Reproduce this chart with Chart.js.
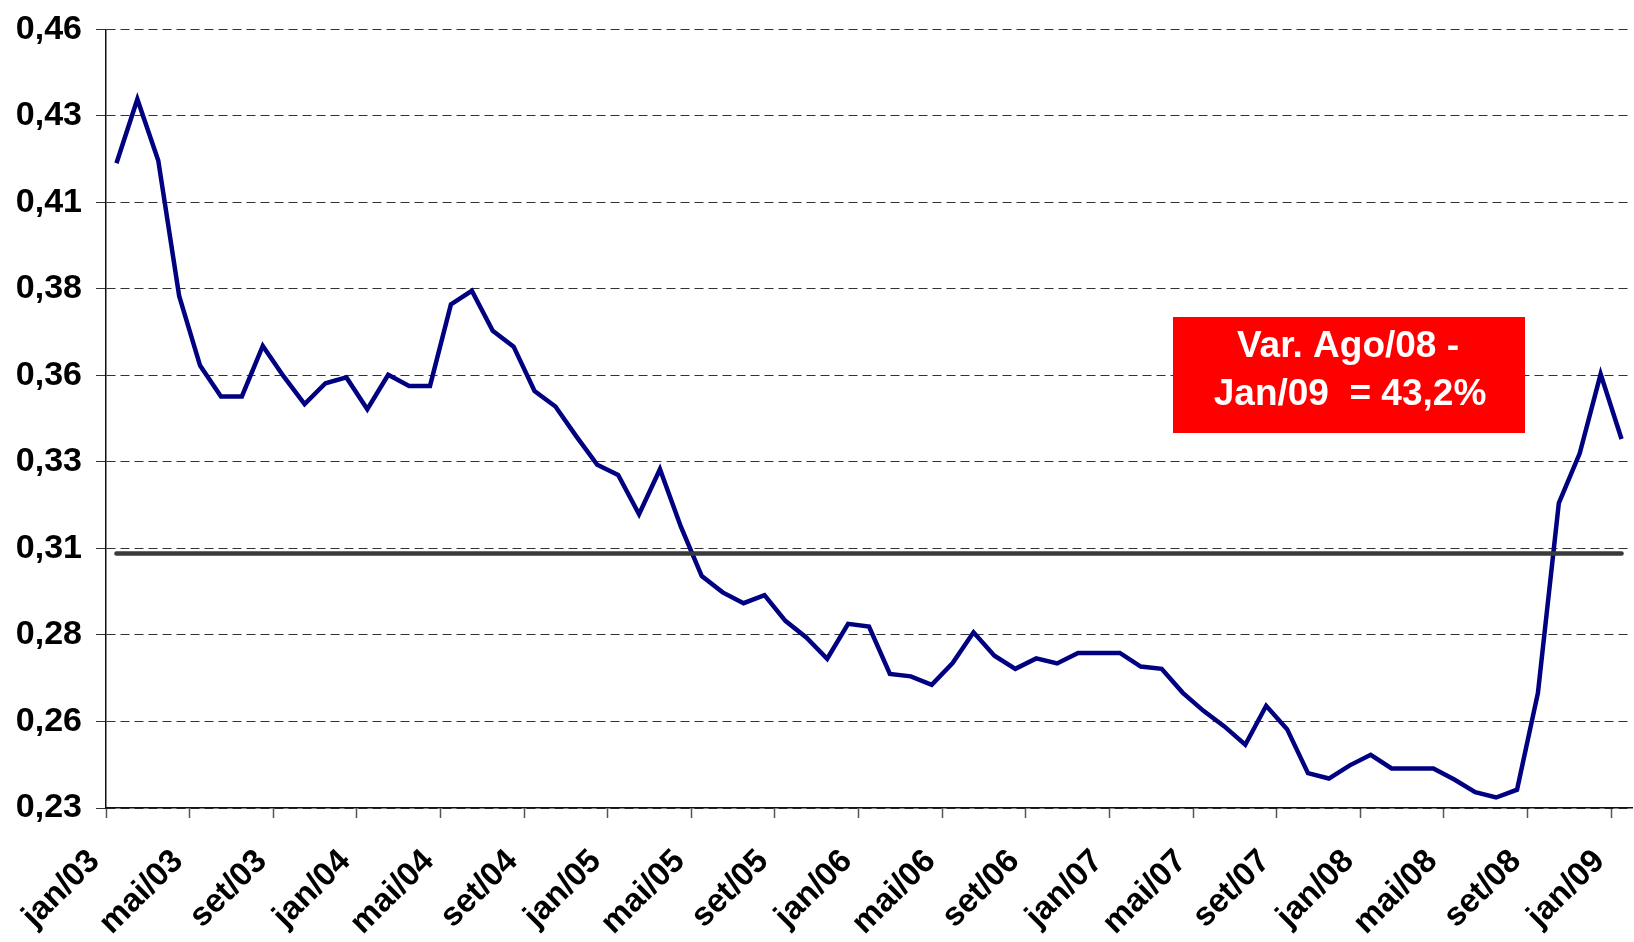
<!DOCTYPE html>
<html>
<head>
<meta charset="utf-8">
<script src="https://cdn.jsdelivr.net/npm/chart.js@4/dist/chart.umd.min.js"></script>
<style>
  body { margin: 0; background: #fff; }
  #wrap { width: 1634px; height: 942px; }
</style>
</head>
<body>
<div id="wrap"><canvas id="chart"></canvas></div>
<script>
// months jan/03 .. jan/09
const months = [
  "jan/03","fev/03","mar/03","abr/03","mai/03","jun/03","jul/03","ago/03","set/03","out/03","nov/03","dez/03",
  "jan/04","fev/04","mar/04","abr/04","mai/04","jun/04","jul/04","ago/04","set/04","out/04","nov/04","dez/04",
  "jan/05","fev/05","mar/05","abr/05","mai/05","jun/05","jul/05","ago/05","set/05","out/05","nov/05","dez/05",
  "jan/06","fev/06","mar/06","abr/06","mai/06","jun/06","jul/06","ago/06","set/06","out/06","nov/06","dez/06",
  "jan/07","fev/07","mar/07","abr/07","mai/07","jun/07","jul/07","ago/07","set/07","out/07","nov/07","dez/07",
  "jan/08","fev/08","mar/08","abr/08","mai/08","jun/08","jul/08","ago/08","set/08","out/08","nov/08","dez/08",
  "jan/09"
];

const values = [
  0.4205, 0.4394, 0.4213, 0.3813, 0.3607, 0.3516, 0.3516, 0.3665, 0.3575, 0.3493, 0.3555, 0.3572,
  0.3478, 0.3580, 0.3547, 0.3547, 0.3788, 0.3828, 0.3710, 0.3663, 0.3532, 0.3486, 0.3398, 0.3314,
  0.3284, 0.3168, 0.3301, 0.3131, 0.2985, 0.2937, 0.2905, 0.2929, 0.2853, 0.2804, 0.2741, 0.2844,
  0.2836, 0.2696, 0.2689, 0.2664, 0.2728, 0.2819, 0.2750, 0.2711, 0.2742, 0.2727, 0.2758, 0.2758,
  0.2758, 0.2718, 0.2711, 0.2641, 0.2587, 0.2541, 0.2487, 0.2602, 0.2533, 0.2403, 0.2387, 0.2426,
  0.2457, 0.2417, 0.2417, 0.2417, 0.2384, 0.2347, 0.2331, 0.2354, 0.2640, 0.3201, 0.3348, 0.3582,
  0.3390
];

const avgLevel = 0.3052;

const yMin = 0.23, yMax = 0.46;
const yTickLabels = ["0,23","0,26","0,28","0,31","0,33","0,36","0,38","0,41","0,43","0,46"];

const noteLines = ["Var. Ago/08 -", "Jan/09  = 43,2%"];

const FONT = '"Liberation Sans", Arial, sans-serif';

const noteBox = {
  id: 'noteBox',
  afterDatasetsDraw(chart) {
    const ctx = chart.ctx;
    ctx.save();
    ctx.fillStyle = '#ff0000';
    ctx.fillRect(1173, 317, 352, 116);
    ctx.fillStyle = '#ffffff';
    ctx.font = 'bold 37px ' + FONT;
    ctx.textAlign = 'center';
    ctx.textBaseline = 'middle';
    ctx.fillText(noteLines[0], 1348, 347);
    ctx.fillText(noteLines[1], 1350, 395);
    ctx.restore();
  }
};

new Chart(document.getElementById('chart'), {
  type: 'line',
  data: {
    labels: months,
    datasets: [{
      data: values,
      borderColor: '#000080',
      borderWidth: 4.5,
      pointRadius: 0,
      tension: 0,
      order: 2
    }, {
      data: months.map(() => avgLevel),
      borderColor: '#3a3a3a',
      borderWidth: 4.5,
      borderCapStyle: 'round',
      pointRadius: 0,
      order: 1
    }]
  },
  options: {
    responsive: true,
    maintainAspectRatio: false,
    animation: false,
    layout: { padding: { top: 29.5, right: 2, left: 0, bottom: 0 } },
    plugins: { legend: { display: false }, tooltip: { enabled: false } },
    scales: {
      x: {
        offset: true,
        grid: {
          offset: true,
          drawOnChartArea: false,
          tickLength: 10,
          tickWidth: 1.5,
          tickColor: (c) => (c.index % 4 === 0 ? '#555' : 'rgba(0,0,0,0)')
        },
        border: { color: '#111', width: 1.5 },
        ticks: {
          autoSkip: false,
          minRotation: 45,
          maxRotation: 45,
          padding: 24,
          labelOffset: -22,
          color: '#000',
          font: { family: FONT, size: 33, weight: 'bold' },
          callback: function (v, i) { return i % 4 === 0 ? months[i] : ''; }
        },
        afterFit(scale) {
          scale.height = 134;
          scale.paddingLeft = 0;
          scale.paddingRight = 0;
        }
      },
      y: {
        min: yMin,
        max: yMax,
        afterBuildTicks(scale) {
          scale.ticks = yTickLabels.map((l, i) => ({ value: yMin + i * (yMax - yMin) / 9 }));
        },
        grid: {
          color: '#333',
          lineWidth: 1,
          tickLength: 10,
          tickColor: '#333'
        },
        border: { color: '#111', width: 1.5, dash: [9, 5] },
        ticks: {
          padding: 14,
          color: '#000',
          font: { family: FONT, size: 34, weight: 'bold' },
          callback: function (v, i) { return yTickLabels[i]; }
        },
        afterFit(scale) {
          scale.width = 106;
          scale.paddingTop = 0;
          scale.paddingBottom = 0;
        }
      }
    }
  },
  plugins: [noteBox]
});
</script>
</body>
</html>
